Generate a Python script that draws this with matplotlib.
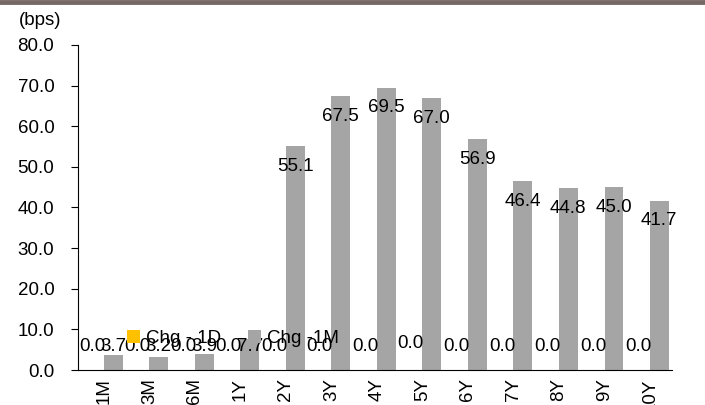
import matplotlib
matplotlib.use('Agg')
import matplotlib.pyplot as plt
import numpy as np

tenors = ['1M', '3M', '6M', '1Y', '2Y', '3Y', '4Y', '5Y', '6Y', '7Y', '8Y', '9Y', '10Y']
chg_1d = [0.0, 0.0, 0.0, 0.0, 0.0, 0.0, 0.0, 0.0, 0.0, 0.0, 0.0, 0.0, 0.0]
chg_1m = [3.7, 3.2, 3.9, 7.7, 55.1, 67.5, 69.5, 67.0, 56.9, 46.4, 44.8, 45.0, 41.7]

plt.rcParams['font.family'] = ['Liberation Sans', 'DejaVu Sans']
fs = 13.5

fig = plt.figure(figsize=(7.05, 4.05), dpi=100)
ax = fig.add_axes([0.1106, 0.0864, 0.8424, 0.8026])

pos = np.arange(len(tenors))
width = 0.41
ax.bar(pos - width / 2, chg_1d, width, color='#ffc000', label='Chg - 1D')
ax.bar(pos + width / 2, chg_1m, width, color='#a5a5a5', label='Chg -1M')

# data labels, roughly where excel put them
for i, v in enumerate(chg_1d):
    y = 6.6 if tenors[i] == '5Y' else 5.8
    ax.text(pos[i] - width / 2 - 0.05, y, '%.1f' % v, ha='center', va='center', fontsize=fs)
for i, v in enumerate(chg_1m):
    y = v - 5 if v > 20 else 5.8
    ax.text(pos[i] + width / 2, y, '%.1f' % v, ha='center', va='center', fontsize=fs)

ax.set_xlim(-0.57, 12.48)
ax.set_ylim(0, 80)
ax.set_yticks(np.arange(0, 81, 10))
ax.set_yticklabels(['%.1f' % t for t in np.arange(0, 81, 10)], fontsize=fs)
ax.set_xticks(pos)
ax.set_xticklabels(tenors, rotation=90, fontsize=fs, va='top')
ax.tick_params(axis='y', direction='out', length=5, pad=12)
ax.tick_params(axis='x', length=0, pad=6)
ax.spines['top'].set_visible(False)
ax.spines['right'].set_visible(False)

ax.legend(loc='center left', bbox_to_anchor=(0.07, 0.098), ncol=2, frameon=False,
          fontsize=fs, handlelength=0.7, handleheight=0.7, handletextpad=0.3,
          columnspacing=1.45, borderaxespad=0)

fig.text(0.057, 0.95, '(bps)', ha='center', va='center', fontsize=fs)
fig.add_artist(plt.Line2D([0, 1], [0.995, 0.995], color='#766865', linewidth=3.5,
                          transform=fig.transFigure))

plt.savefig('out.png', dpi=100)
